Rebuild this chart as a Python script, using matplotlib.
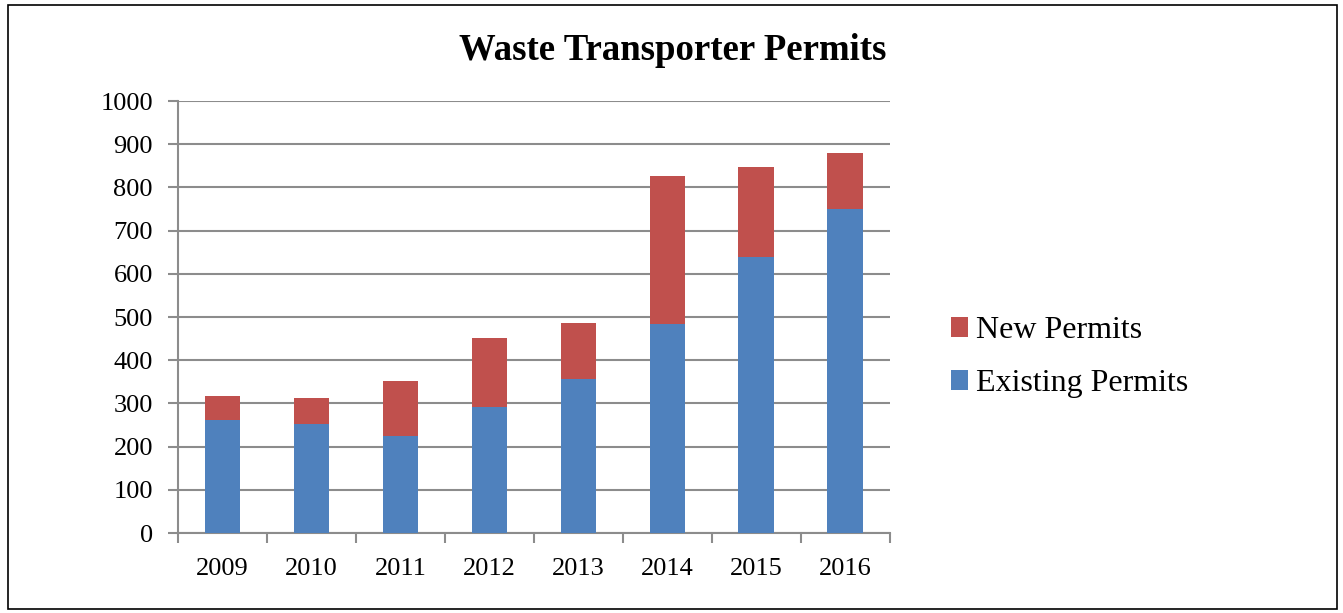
import matplotlib
matplotlib.use("Agg")
import matplotlib.pyplot as plt
import numpy as np
from matplotlib.patches import Rectangle

years = ["2009", "2010", "2011", "2012", "2013", "2014", "2015", "2016"]
existing = [262, 252, 225, 291, 357, 483, 640, 749]
new = [56, 61, 128, 161, 130, 344, 208, 130]

plt.rcParams['font.family'] = ['Liberation Serif', 'DejaVu Serif']

fig = plt.figure(figsize=(13.43, 6.13), dpi=100)
ax = fig.add_axes([0.1325, 0.1305, 0.530, 0.7047])

x = np.arange(len(years))
grid_c = "#8c8c8c"
b1 = ax.bar(x, existing, width=0.40, color="#4F81BD", label="Existing Permits", zorder=3)
b2 = ax.bar(x, new, width=0.40, bottom=existing, color="#C0504D", label="New Permits", zorder=3)

ax.set_xlim(-0.5, len(years) - 0.5)
ax.set_ylim(0, 1000)
ax.set_yticks(range(0, 1001, 100))
ax.yaxis.grid(True, color=grid_c, linewidth=1.5, zorder=0)
ax.set_axisbelow(True)

ax.set_xticks(x)
ax.set_xticklabels(years, fontsize=19)
ax.set_xticks(np.arange(-0.5, len(years)), minor=True)
ax.tick_params(axis='x', which='major', length=0, pad=18)
ax.tick_params(axis='x', which='minor', length=7, width=1.5, color=grid_c, direction='out')
ax.tick_params(axis='y', length=7, width=1.5, color=grid_c, labelsize=19, pad=11)

for s in ['top', 'right']:
    ax.spines[s].set_visible(False)
for s in ['left', 'bottom']:
    ax.spines[s].set_color(grid_c)
    ax.spines[s].set_linewidth(1.5)

fig.text(0.501, 0.917, "Waste Transporter Permits", ha='center', va='center',
         fontsize=26.5, fontweight='bold')

leg = fig.legend(handles=[b2, b1], labels=["New Permits", "Existing Permits"],
                 loc='center left', bbox_to_anchor=(0.6866, 0.417), frameon=False,
                 fontsize=23, handlelength=0.55, handleheight=0.55, handletextpad=0.25,
                 labelspacing=0.75)

fig.patches.append(Rectangle((8 / 1343, 4 / 613), 1329 / 1343, 604 / 613,
                             transform=fig.transFigure, fill=False,
                             edgecolor='black', linewidth=1.2))

fig.savefig("out.png", dpi=100)
